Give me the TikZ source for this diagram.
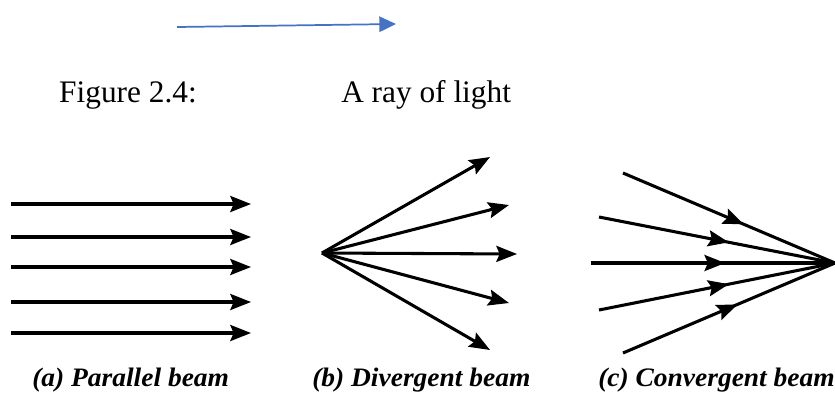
\documentclass[tikz,border=0pt]{standalone}
\usepackage{fontspec}
\setmainfont{Liberation Serif}
\usetikzlibrary{arrows.meta,decorations.markings}
\definecolor{rayblue}{HTML}{4472C4}
\begin{document}
\begin{tikzpicture}[x=0.75pt,y=-0.75pt,
  ray/.style={line width=2.3pt,-{Stealth[length=15.5pt,width=12pt,inset=2.5pt]}},
  midray/.style={line width=2.3pt,postaction={decorate},
    decoration={markings,mark=at position #1 with {\arrow{Stealth[length=15.5pt,width=12pt,inset=2.5pt]}}}},
  bluearrow/.style={rayblue,line width=1.3pt,-{Triangle[length=12.5pt,width=11.5pt]}},
  toptext/.style={anchor=base west,inner sep=0pt,font=\fontsize{23.5}{27}\selectfont},
  caption/.style={anchor=base west,inner sep=0pt,font=\fontsize{20}{23}\selectfont\bfseries\itshape}]
\useasboundingbox (0,0) rectangle (835,394);
% blue ray
\coordinate (b1) at (177,27);
\coordinate (b2) at (396,24);
\draw[bluearrow] (b1) -- (b2);
\node[toptext,anchor=base east] (fig) at (197,102) {Figure 2.4:};
\node[toptext] (ray) at (341,102) {A ray of light};
% parallel beam
\foreach \i/\y in {1/204,2/237,3/267,4/302,5/333}{
  \coordinate (pa\i) at (11,\y);
  \coordinate (pb\i) at (251,\y);
  \draw[ray] (pa\i) -- (pb\i);
}
% divergent beam
\coordinate (d0) at (322,253);
\coordinate (d1) at (490,157);
\coordinate (d2) at (509,205);
\coordinate (d3) at (517,254);
\coordinate (d4) at (509,303);
\coordinate (d5) at (490,350);
\foreach \i in {1,...,5}{\draw[ray] (d0) -- (d\i);}
% convergent beam
\coordinate (c0) at (835,263);
\coordinate (c1) at (623,173);
\coordinate (c2) at (599,217);
\coordinate (c3) at (591,263);
\coordinate (c4) at (599,310);
\coordinate (c5) at (623,353);
\foreach \i/\p in {1/0.57,2/0.55,3/0.55,4/0.55,5/0.54}{\draw[midray=\p] (c\i) -- (c0);}
% captions
\node[caption] (capa) at (32,386) {\scalebox{1.03}[1]{(a) Parallel beam}};
\node[caption] (capb) at (312,386) {\scalebox{1.03}[1]{(b) Divergent beam}};
\node[caption] (capc) at (598,386) {\scalebox{1.03}[1]{(c) Convergent beam}};
\end{tikzpicture}
\end{document}
